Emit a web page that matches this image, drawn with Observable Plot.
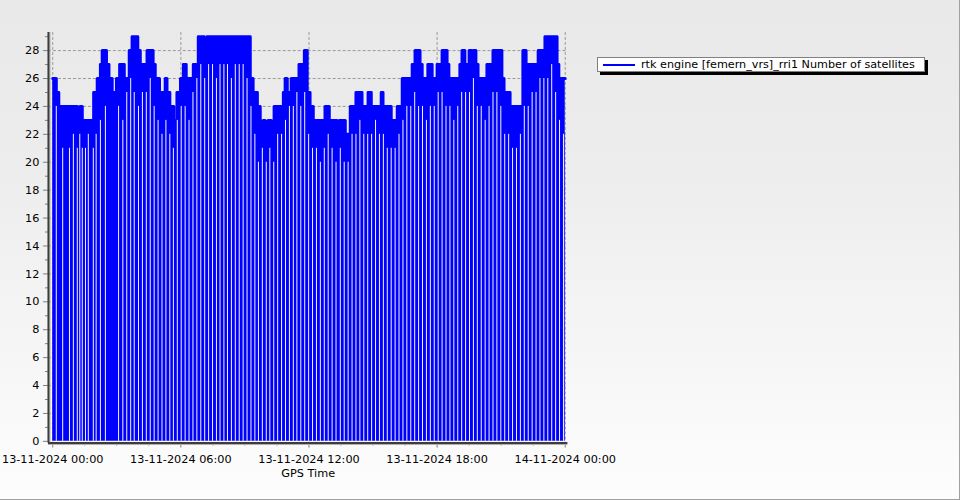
<!DOCTYPE html>
<html>
<head>
<meta charset="utf-8">
<script src="https://cdn.jsdelivr.net/npm/d3@7"></script>
<script src="https://cdn.jsdelivr.net/npm/@observablehq/plot@0.6"></script>
<style>
  html, body { margin: 0; padding: 0; }
  body { width: 960px; height: 500px; overflow: hidden; }
  #wrap {
    position: relative; width: 959px; height: 499px;
    border-right: 1px solid #a0a0a0; border-bottom: 1px solid #a0a0a0;
    background: linear-gradient(to bottom, #e9e9e9 0%, #ececec 30%, #fdfdfd 100%);
    font-family: "DejaVu Sans", sans-serif;
  }
  #chart svg { display: block; }
  #legend {
    position: absolute; left: 597px; top: 57px; width: 326px; height: 13px;
    background: #fff; border: 1px solid #808080; box-shadow: 3px 3px 0 #000;
    font-size: 11.2px; color: #000;
  }
  #legend .swatch { position: absolute; left: 5px; top: 6px; width: 32px; height: 2px; background: #0000ff; }
  #legend .txt { position: absolute; left: 43px; top: 0; line-height: 13px; white-space: nowrap; }
</style>
</head>
<body>
<div id="wrap">
  <div id="chart"></div>
  <div id="legend"><div class="swatch"></div><div class="txt"></div></div>
</div>
<script>
// ---- data ----
const seriesName = "rtk engine [femern_vrs]_rri1 Number of satellites";
const xTitle = "GPS Time";
const startDay = "2024-11-13T00:00:00Z";

// upper envelope of the satellite count: minutes after 13-11-2024 00:00 and value from then on
const envMinutes = [0,10,17,22,69,76,83,115,125,134,
  139,151,158,167,179,188,201,215,223,239,
  246,265,282,288,300,316,321,329,340,349,
  359,367,375,395,409,426,434,555,563,575,
  583,591,597,605,614,622,648,653,659,670,
  692,707,715,723,732,765,777,799,805,822,
  836,852,869,886,895,923,928,951,968,982,
  1010,1018,1032,1038,1054,1066,1080,1094,1108,1113,
  1144,1150,1158,1170,1178,1182,1189,1195,1220,1237,
  1262,1268,1285,1321,1330,1364,1383,1417,1422,1440];
const envValues = [26,25,23,24,23,24,23,25,26,27,
  28,27,26,25,26,27,26,28,29,28,
  27,28,27,26,25,26,25,24,23,25,
  26,27,26,27,29,28,29,26,25,24,
  22,23,22,23,22,24,25,26,25,26,
  27,28,25,24,23,24,23,22,23,22,
  24,25,24,25,24,25,24,23,24,26,
  27,28,27,26,27,26,27,28,27,26,
  27,28,27,28,27,28,27,26,27,28,
  26,25,24,28,27,28,29,27,26,26];

// drop-outs to 0 satellites: minutes and the lower level the gap reaches
const dropMinutes = [10,28,47,58,69,76,83,92,100,114,
  122,134,148,185,197,208,219,229,241,252,
  263,274,285,296,307,318,329,339,350,361,
  372,383,394,405,416,427,438,449,460,470,
  481,491,502,513,524,535,546,557,568,578,
  589,600,610,621,632,643,654,665,676,686,
  697,708,719,730,741,752,763,774,785,796,
  808,819,830,841,852,863,874,885,896,907,
  918,929,940,951,962,973,984,995,1006,1017,
  1028,1039,1050,1061,1072,1083,1094,1105,1116,1127,
  1138,1149,1160,1171,1182,1193,1204,1215,1226,1237,
  1248,1259,1270,1281,1292,1303,1314,1325,1336,1347,
  1358,1369,1380,1391,1402,1413,1424,1435];
const dropTops = [24,21,21,22,21,22,21,21,22,21,
  22,23,24,24,23,25,26,25,24,25,
  25,26,24,23,22,23,22,21,23,24,
  24,23,25,26,27,26,27,27,26,27,
  27,27,26,27,27,27,26,24,22,20,
  21,20,21,20,22,22,23,24,24,25,
  24,25,22,21,21,20,21,22,21,20,
  21,20,20,22,22,23,22,22,22,23,
  22,22,21,21,21,22,23,24,24,25,
  24,24,23,24,24,25,25,24,24,23,
  24,25,25,25,26,24,24,23,24,25,
  25,24,22,22,21,21,22,24,24,25,
  25,26,26,26,27,25,23,22];

// axis ticks
const yMajorTicks = [0,2,4,6,8,10,12,14,16,18,20,22,24,26,28];
const yMinorTicks = [1,3,5,7,9,11,13,15,17,19,21,23,25,27,29];
const xMajorHours = [0,6,12,18,24];
const xMinorHours = [1.5,3,4.5,7.5,9,10.5,13.5,15,16.5,19.5,21,22.5];

// ---- build ----
const t0 = new Date(startDay).getTime();
const atMin = m => new Date(t0 + m * 60000);
const envelope = envMinutes.map((m, i) => ({t: atMin(m), v: envValues[i]}));
const drops = dropMinutes.map((m, i) => ({t: atMin(m), top: dropTops[i]}));
const xMajor = xMajorHours.map(h => atMin(h * 60));
const xMinor = xMinorHours.map(h => atMin(h * 60));
const xDomain = [atMin(-12), atMin(1447.5)];
const yDomain = [-0.12, 29.3];
const fmt = d3.utcFormat("%d-%m-%Y %H:%M");
const blue = "#0000ff";

const chart = Plot.plot({
  width: 960, height: 500,
  marginLeft: 48, marginRight: 392, marginTop: 32, marginBottom: 57,
  style: {background: "transparent", fontFamily: "DejaVu Sans, sans-serif", fontSize: "11.3px", color: "#000", overflow: "visible"},
  x: {type: "utc", domain: xDomain},
  y: {domain: yDomain},
  marks: [
    Plot.gridY(yMajorTicks.filter(d => d > 0), {stroke: "#9a9a9a", strokeOpacity: 1, strokeDasharray: "3,2"}),
    Plot.gridX(xMajor, {stroke: "#9a9a9a", strokeOpacity: 1, strokeDasharray: "3,2"}),
    Plot.areaY(envelope, {x: "t", y: "v", curve: "step-after", fill: blue}),
    Plot.lineY(envelope, {x: "t", y: "v", curve: "step-after", stroke: blue, strokeWidth: 3, strokeLinejoin: "round"}),
    Plot.ruleX(drops, {x: "t", y1: 0, y2: "top", stroke: "#f6f6f6", strokeWidth: 1}),
    Plot.axisY(yMajorTicks, {tickSize: 5, tickPadding: 4, stroke: "#808080", fill: "#000", label: null}),
    Plot.axisY(yMinorTicks, {tickSize: 3, tickFormat: () => "", stroke: "#808080", label: null}),
    Plot.axisX(xMajor, {tickSize: 5, tickPadding: 7, stroke: "#808080", fill: "#000", tickFormat: fmt,
      label: xTitle, labelAnchor: "center", labelOffset: 34, labelArrow: "none"}),
    Plot.axisX(xMinor, {tickSize: 3, tickFormat: () => "", stroke: "#808080", label: null}),
    Plot.ruleX([xDomain[0]], {y1: yDomain[0], y2: yDomain[1], stroke: "#b0b0b0", strokeWidth: 1, dx: 1.5}),
    Plot.ruleY([yDomain[0]], {x1: xDomain[0], x2: xDomain[1], stroke: "#b0b0b0", strokeWidth: 1, dy: 1.5}),
    Plot.ruleX([xDomain[0]], {y1: yDomain[0], y2: yDomain[1], stroke: "#3c3c3c", strokeWidth: 2}),
    Plot.ruleY([yDomain[0]], {x1: xDomain[0], x2: xDomain[1], stroke: "#3c3c3c", strokeWidth: 2})
  ]
});
document.getElementById("chart").appendChild(chart);
document.querySelector("#legend .txt").textContent = seriesName;
</script>
</body>
</html>
